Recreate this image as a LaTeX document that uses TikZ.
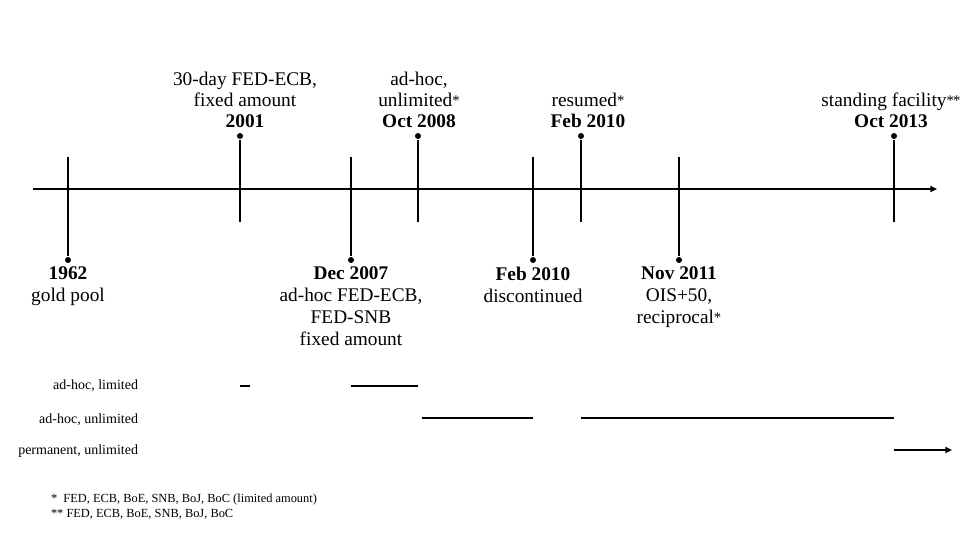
\documentclass[tikz,border=0pt]{standalone}
\usepackage{fontspec}
\setmainfont{Liberation Serif}
\usetikzlibrary{arrows.meta,positioning}
\newcommand{\mk}[1]{\raisebox{0.15ex}{\fontsize{11}{11}\selectfont#1}}

\begin{document}
\begin{tikzpicture}[x=0.75pt,y=-0.75pt,line width=1.5pt,
  dot/.style={circle,fill,inner sep=0pt,minimum size=4.5pt},
  above label/.style={align=center,anchor=south,inner sep=0pt,font=\fontsize{14.5}{15.75}\selectfont},
  below label/.style={align=center,anchor=north,inner sep=0pt,font=\fontsize{14.5}{16.5}\selectfont},
  kind/.style={anchor=base east,inner sep=0pt,font=\fontsize{10.5}{12}\selectfont},
  note/.style={anchor=base west,inner sep=0pt,align=left,font=\fontsize{9.3}{11.25}\selectfont}]
  \useasboundingbox (0,0) rectangle (960,540);

  % the time axis
  \coordinate (start) at (33,189);
  \coordinate (end) at (937,189);
  \draw[-{Triangle[length=5pt,width=4.5pt]}] (start) -- (end);

  % events below the axis
  \node[dot] (d1962) at (68,260) {};
  \node[dot] (d2007) at (351,260) {};
  \node[dot] (d2010a) at (533,260) {};
  \node[dot] (d2011) at (679,260) {};
  \coordinate (t1962) at (68,157);
  \coordinate (t2007) at (351,157);
  \coordinate (t2010a) at (533,157);
  \coordinate (t2011) at (679,157);
  \draw (t1962) -- (d1962);
  \draw (t2007) -- (d2007);
  \draw (t2010a) -- (d2010a);
  \draw (t2011) -- (d2011);

  % events above the axis
  \node[dot] (d2001) at (240,136) {};
  \node[dot] (d2008) at (418,136) {};
  \node[dot] (d2010b) at (581,136) {};
  \node[dot] (d2013) at (894,136) {};
  \coordinate (b2001) at (240,222);
  \coordinate (b2008) at (418,222);
  \coordinate (b2010b) at (581,222);
  \coordinate (b2013) at (894,222);
  \draw (d2001) -- (b2001);
  \draw (d2008) -- (b2008);
  \draw (d2010b) -- (b2010b);
  \draw (d2013) -- (b2013);

  % labels
  \node[above label] (l2001) at (245,129) {30-day FED-ECB,\\fixed amount\\\textbf{2001}};
  \node[above label] (l2008) at (419,129) {ad-hoc,\\unlimited\mk{*}\\\textbf{Oct 2008}};
  \node[above label] (l2010b) at (588,129) {resumed\mk{*}\\\textbf{Feb 2010}};
  \node[above label] (l2013) at (891,129) {standing facility\mk{*\kern-0.5pt*}\\\textbf{Oct 2013}};
  \node[below label] (l1962) at (68,266) {\textbf{1962}\\gold pool};
  \node[below label] (l2007) at (351,266) {\textbf{Dec 2007}\\ad-hoc FED-ECB,\\FED-SNB\\fixed amount};
  \node[below label] (l2010a) at (533,266) {\textbf{Feb 2010}\\discontinued};
  \node[below label] (l2011) at (679,266) {\textbf{Nov 2011}\\OIS+50,\\reciprocal\mk{*}};

  % kind of swap line
  \node[kind] (limited) at (139,389) {ad-hoc, limited};
  \node[kind] (unlimited) at (139,423) {ad-hoc, unlimited};
  \node[kind] (permanent) at (139,454) {permanent, unlimited};
  \draw (240,386) -- (250,386);
  \draw (351,386) -- (418,386);
  \draw (422,418) -- (533,418);
  \draw (581,418) -- (894,418);
  \draw[-{Triangle[length=5pt,width=4.5pt]}] (894,450) -- (952,450);

  % footnotes
  \node[note] (n1) at (50,502) {*\ \ FED, ECB, BoE, SNB, BoJ, BoC (limited amount)};
  \node[note] (n2) at (50,517) {** FED, ECB, BoE, SNB, BoJ, BoC};
\end{tikzpicture}
\end{document}
